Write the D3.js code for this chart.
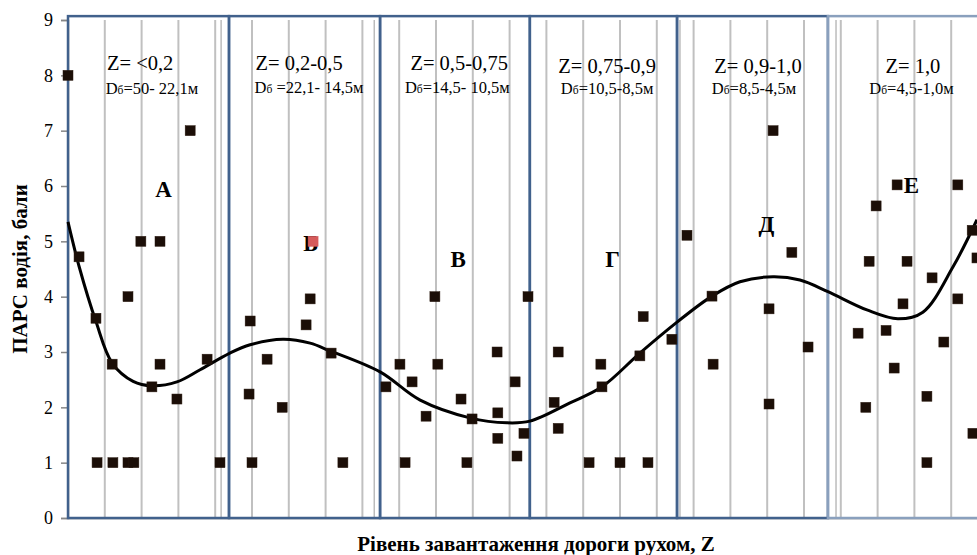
<!DOCTYPE html>
<html lang="uk">
<head>
    <meta charset="UTF-8">
    <title>ПАРС водія vs рівень завантаження</title>
    <script src="https://cdn.jsdelivr.net/npm/d3@7"></script>
    <style>
        body { margin: 0; background: #fff; }
    </style>
</head>
<body>
<script>
// Observations (x in grid units along the road, y = score)
const pointX = [0, 0.30, 0.76, 0.79, 1.20, 1.22, 1.63, 1.63, 1.79, 1.98, 2.28, 2.50, 2.50, 2.96, 3.32, 3.78, 4.13,
    4.92, 4.95, 5.00, 5.41, 5.82, 6.47, 6.58, 6.66, 7.15, 7.47,
    8.64, 9.02, 9.16, 9.35, 9.73, 9.97, 10.05, 10.68, 10.84, 10.98, 11.66, 11.68, 11.68, 12.15, 12.20, 12.39, 12.50,
    13.21, 13.32, 13.32, 14.16, 14.48, 14.51, 15.00, 15.54, 15.63, 15.76, 16.41,
    16.82, 17.50, 17.53, 19.05, 19.05, 19.16, 19.67, 20.11,
    21.47, 21.68, 21.77, 21.96, 22.23, 22.45, 22.53, 22.69, 22.80, 23.34, 23.34, 23.48, 23.80, 24.18, 24.18, 24.57, 24.59, 24.70];
const pointY = [8.0, 4.72, 3.61, 1, 2.78, 1, 4.0, 1, 1, 5.0, 2.37, 5.0, 2.78, 2.15, 7.0, 2.87, 1,
    2.24, 3.56, 1, 2.87, 2.0, 3.49, 3.96, 5.0, 2.98, 1,
    2.37, 2.78, 1, 2.46, 1.84, 4.0, 2.78, 2.15, 1, 1.79, 3.0, 1.9, 1.44, 2.46, 1.12, 1.53, 4.0,
    2.09, 3.0, 1.62, 1, 2.78, 2.37, 1, 2.93, 3.64, 1, 3.23,
    5.11, 4.01, 2.78, 3.78, 2.06, 7.0, 4.8, 3.09,
    3.34, 2.0, 4.64, 5.64, 3.39, 2.71, 6.02, 3.87, 4.64, 2.2, 1, 4.34, 3.18, 6.02, 3.96, 5.2, 1.53, 4.7];
const highlighted = [24]; // index of the red point

// Trend curve
const trendX = [0, 0.30, 0.76, 1.20, 1.77, 2.28, 2.96, 3.59, 4.40, 4.95, 5.84, 6.58, 7.12, 8.48, 9.57, 10.92,
    11.93, 12.55, 13.64, 14.51, 15.54, 16.55, 17.50, 18.26, 19.16, 19.89, 20.65, 21.71, 22.55, 23.23, 24.05, 24.70];
const trendY = [5.35, 4.55, 3.55, 2.80, 2.47, 2.39, 2.46, 2.68, 2.98, 3.13, 3.23, 3.16, 3.02, 2.64, 2.13, 1.81,
    1.72, 1.75, 2.08, 2.37, 2.98, 3.54, 4.01, 4.27, 4.36, 4.30, 4.09, 3.76, 3.60, 3.72, 4.54, 5.39];

// Zones
const zoneEdges = [0, 4.375, 8.48, 12.55, 16.55, 20.65, 25.6];
const zoneZ = ["Z= <0,2", "Z= 0,2-0,5", "Z= 0,5-0,75", "Z= 0,75-0,9", "Z= 0,9-1,0", "Z= 1,0"];
const zoneD = ["=50- 22,1м", " =22,1- 14,5м", "=14,5- 10,5м", "=10,5-8,5м", "=8,5-4,5м", "=4,5-1,0м"];
const zoneLetters = ["А", "Б", "В", "Г", "Д", "Е"];

// label anchors (data units)
const zLabelPos = [[1.96, 8.10], [6.28, 8.10], [10.63, 8.10], [14.65, 8.04], [18.75, 8.04], [22.96, 8.04]];
const dLabelPos = [[2.28, 7.66], [6.55, 7.68], [10.58, 7.68], [14.65, 7.66], [18.64, 7.66], [22.92, 7.66]];
const letterPos = [[2.60, 5.80], [6.60, 4.82], [10.60, 4.54], [14.80, 4.54], [18.98, 5.16], [22.92, 5.87]];
const extraLines = [4.16, 8.32, 16.63, 20.87];

const yTicks = d3.range(0, 10);
const gridX = d3.range(1, 26);

const SERIF = "'Liberation Serif', 'Times New Roman', Times, serif";
const W = 977, H = 555;
const svg = d3.select("body").append("svg")
    .attr("width", W).attr("height", H)
    .style("font-family", SERIF);

const x = d3.scaleLinear().domain([0, 25]).range([68, 988]);
const y = d3.scaleLinear().domain([0, 9]).range([518, 20]);

// vertical grid
svg.append("g").selectAll("line").data(gridX).join("line")
    .attr("x1", d => x(d)).attr("x2", d => x(d))
    .attr("y1", y(9)).attr("y2", y(0))
    .attr("stroke", "#c0c0c0").attr("stroke-width", 2);

svg.append("g").selectAll("line").data(extraLines).join("line")
    .attr("x1", d => x(d)).attr("x2", d => x(d))
    .attr("y1", y(9)).attr("y2", y(0))
    .attr("stroke", "#9a9a9a").attr("stroke-width", 1);

// x axis line
svg.append("line")
    .attr("x1", x(0)).attr("x2", W).attr("y1", y(0) + 0.5).attr("y2", y(0) + 0.5)
    .attr("stroke", "#b8b8b8").attr("stroke-width", 2);

// y axis
const yAxis = svg.append("g")
    .attr("transform", `translate(${x(0)},0)`)
    .call(d3.axisLeft(y).tickValues(yTicks).tickSize(7).tickPadding(8));
yAxis.attr("font-family", null).attr("font-size", null);
yAxis.select(".domain").attr("stroke", "#868686").attr("stroke-width", 1.5);
yAxis.selectAll(".tick line").attr("stroke", "#868686").attr("stroke-width", 1.5);
yAxis.selectAll(".tick text")
    .style("font-family", SERIF).style("font-size", "18px").attr("fill", "#000");

// zone boxes
svg.append("g").selectAll("rect").data(d3.range(zoneZ.length)).join("rect")
    .attr("x", i => x(zoneEdges[i]))
    .attr("y", y(9.07))
    .attr("width", i => x(zoneEdges[i + 1]) - x(zoneEdges[i]))
    .attr("height", y(0) - y(9.07))
    .attr("fill", "none")
    .attr("stroke", i => i === 5 ? "#8aa0bd" : "#41618c")
    .attr("stroke-width", 2.5);

// zone texts
svg.append("g").selectAll("text").data(zoneZ).join("text")
    .style("font-family", SERIF).style("font-size", "20.5px")
    .attr("text-anchor", "middle")
    .attr("x", (d, i) => x(zLabelPos[i][0]))
    .attr("y", (d, i) => y(zLabelPos[i][1]))
    .text(d => d);

const dText = svg.append("g").selectAll("text").data(zoneD).join("text")
    .style("font-family", SERIF).style("font-size", "16.5px")
    .attr("text-anchor", "middle")
    .attr("x", (d, i) => x(dLabelPos[i][0]))
    .attr("y", (d, i) => y(dLabelPos[i][1]));
dText.append("tspan").text("D");
dText.append("tspan").style("font-size", "11.5px").text("б");
dText.append("tspan").text(d => d);

// zone letters (under the points, like the original)
svg.append("g").selectAll("text").data(zoneLetters).join("text")
    .style("font-family", SERIF).style("font-size", "23px").style("font-weight", "bold")
    .attr("text-anchor", "middle")
    .attr("x", (d, i) => x(letterPos[i][0]))
    .attr("y", (d, i) => y(letterPos[i][1]))
    .text(d => d);

// trend curve
const line = d3.line()
    .x((d, i) => x(trendX[i]))
    .y(d => y(d))
    .curve(d3.curveCatmullRom.alpha(0.5));
svg.append("path")
    .datum(trendY)
    .attr("d", line)
    .attr("fill", "none")
    .attr("stroke", "#000")
    .attr("stroke-width", 3);

// points
const s = 10;
svg.append("g").selectAll("rect").data(pointY).join("rect")
    .attr("x", (d, i) => x(pointX[i]) - s / 2)
    .attr("y", d => y(d) - s / 2)
    .attr("width", s).attr("height", s)
    .attr("fill", (d, i) => highlighted.includes(i) ? "#d65b5b" : "#1b0e07")
    .attr("stroke", (d, i) => highlighted.includes(i) ? "#d65b5b" : "#2a1a10")
    .attr("stroke-width", 0.5);

// axis titles
svg.append("text")
    .style("font-family", SERIF).style("font-size", "21px").style("font-weight", "bold")
    .attr("text-anchor", "middle")
    .attr("transform", "translate(27,269) rotate(-90)")
    .text("ПАРС водія, бали");

svg.append("text")
    .style("font-family", SERIF).style("font-size", "21px").style("font-weight", "bold")
    .attr("text-anchor", "middle")
    .attr("x", 536).attr("y", 551)
    .text("Рівень завантаження дороги рухом, Z");
</script>
</body>
</html>
